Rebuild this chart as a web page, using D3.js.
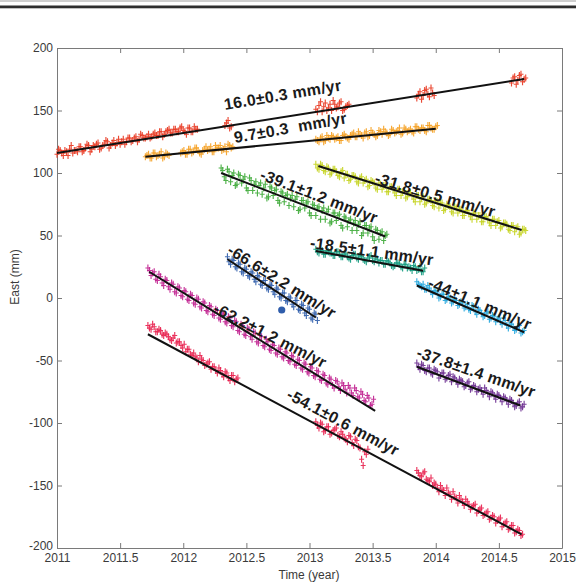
<!DOCTYPE html>
<html>
<head>
<meta charset="utf-8">
<script src="https://cdn.jsdelivr.net/npm/d3@7"></script>
<style>
  html, body { margin: 0; padding: 0; background: #ffffff; }
  svg { display: block; }
  .axis text { font-family: "Liberation Sans", Arial, sans-serif; font-size: 12px; fill: #3a3a3a; }
  .axis path, .axis line { stroke: #7a7a7a; stroke-width: 1; }
  .rate { font-family: "Liberation Sans", Arial, sans-serif; font-weight: bold; font-size: 16px; fill: #1a1a1a; letter-spacing: 0.3px; }
</style>
</head>
<body>
<script>
// ---- Axis ticks ----
const xTicks = [2011, 2011.5, 2012, 2012.5, 2013, 2013.5, 2014, 2014.5, 2015];
const xTickLabels = ["2011", "2011.5", "2012", "2012.5", "2013", "2013.5", "2014", "2014.5", "2015"];
const yTicks = [-200, -150, -100, -50, 0, 50, 100, 150, 200];
const yTickLabels = ["-200", "-150", "-100", "-50", "0", "50", "100", "150", "200"];

// ---- Solutions (East, mm). Each segment starts at the given epoch with one value per sampleStep;
// the *Mid arrays hold the solutions half a step later. ----
const sampleStep = 0.025;

const redStarts = [2011.00, 2012.33, 2013.05, 2013.85, 2014.60];
const redEast = [
  [115,118,114,117,119,116,118,121,117,120,122,119,121,124,120,123,125,122,126,124,
   123,127,125,128,126,129,127,130,128,131,129,132,130,133,131,134,132,135,133,136,
   134,131,136,133,135],
  [138,142,137],
  [151,154,149,156,152,150,155,153,157,151,154],
  [160,165,162,167,161,164],
  [172,177,174,179,175]
];
const redEastMid = [
  [119,116,118,114,122,118,117,121,118,123,117,122,123,119,122,126,120,124,122,127,
   125,123,128,125,128,125,131,128,129,128,131,130,133,129,133,135,132,135,133,137,
   133,136,133,137,135],
  [140,136],
  [149,157,153,150,155,158,152,156,150,153,155],
  [163,159,166,163,168,162],
  [176,171,178,173,176]
];

const orangeStarts = [2011.70, 2011.98, 2013.05];
const orangeEast = [
  [113,115,112,116,114,117,113,115],
  [116,118,115,119,117,120,116,118,121,119,117,122,120,118,121,123,120],
  [127,125,129,126,128,130,127,129,126,131,128,130,132,129,131,128,133,130,132,129,
   134,131,133,130,135,132,134,131,136,133,135,132,137,134,136,133,138,135,137]
];
const orangeEastMid = [
  [114,112,116,113,115,112,116,114],
  [117,115,119,116,120,118,115,119,118,121,117,120,122,119,117,122,121],
  [126,128,125,130,127,129,128,126,130,129,127,131,129,133,130,132,129,134,131,130,
   133,135,132,131,134,133,136,132,135,134,133,137,135,136,134,138,136,135,138]
];

const greenStarts = [2012.30];
const greenEast = [
  [104,97,103,93,100,91,98,95,88,96,86,93,90,83,91,81,88,86,78,85,
   77,83,80,73,81,71,78,76,68,75,66,73,70,63,71,61,68,66,58,65,
   57,63,60,54,61,52,58,56,49,55,47,53,50]
];
const greenEastMid = [
  [102,94,101,98,90,99,92,97,86,94,91,84,92,88,80,89,82,87,76,84,
   82,74,82,79,70,78,72,77,66,74,72,63,72,69,60,68,62,67,56,64,
   62,54,62,59,50,58,52,57,46,54,52,46,51]
];

const yellowStarts = [2013.05];
const yellowEast = [
  [107,103,106,101,104,100,103,98,101,96,99,95,98,93,96,92,95,90,93,88,
   92,87,90,85,89,84,87,82,86,81,84,79,82,77,81,76,79,74,78,72,
   76,71,74,69,73,68,71,66,70,65,68,63,66,61,65,60,63,58,62,57,
   60,55,58,53,57,52,55]
];
const yellowEastMid = [
  [104,107,102,105,99,103,101,97,102,99,94,98,97,92,97,94,89,94,92,87,
   91,90,85,89,87,82,87,85,80,84,82,77,82,80,75,79,78,73,77,76,
   70,75,73,68,72,71,66,70,68,63,68,66,61,65,63,58,63,61,56,60,
   59,54,58,56,51,55,54]
];

const tealStarts = [2013.05];
const tealEast = [
  [39,36,38,35,37,36,34,37,33,35,33,31,35,32,34,31,29,33,30,32,
   28,30,27,29,26,26,28,25,27,24,24,26,22,25,21]
];
const tealEastMid = [
  [37,39,35,38,36,34,37,35,33,36,32,34,35,31,33,30,32,34,29,31,
   30,27,30,28,25,28,27,24,27,25,22,25,23,21,24]
];

const blueStarts = [2012.35];
const blueEast = [
  [33,27,30,24,27,20,23,17,20,13,17,10,14,7,10,3,7,0,4,-3,
   0,-7,-2,-10,-6,-14,-9,-17,-13]
];
const blueEastMid = [
  [29,31,25,28,21,24,18,21,15,18,11,14,8,11,5,8,1,4,-2,1,
   -5,-2,-9,-5,-12,-8,-16,-12,-18]
];
// isolated outlier solution
const blueOutlier = [2012.78, -9.6];

const magentaStarts = [2011.72];
const magentaEast = [
  [24,18,21,14,17,10,14,7,11,4,8,1,5,-2,2,-5,-1,-8,-4,-11,
   -7,-14,-10,-17,-13,-20,-16,-23,-19,-27,-22,-30,-25,-33,-28,-36,-31,-39,-35,-42,
   -38,-45,-41,-48,-44,-51,-47,-54,-50,-57,-53,-60,-56,-63,-59,-66,-62,-69,-65,-72,
   -67,-74,-70,-76,-72,-78,-74,-80,-77,-83,-80,-85]
];
const magentaEastMid = [
  [22,20,15,19,12,15,9,12,5,9,2,6,-1,3,-4,0,-7,-3,-10,-6,
   -13,-9,-16,-12,-19,-15,-22,-18,-26,-21,-29,-24,-31,-27,-35,-30,-38,-33,-41,-37,
   -44,-40,-47,-43,-50,-46,-53,-49,-56,-52,-59,-55,-62,-58,-65,-61,-68,-64,-70,-66,
   -71,-68,-73,-70,-76,-72,-79,-75,-82,-78,-86,-81]
];

const crimsonStarts = [2011.72, 2013.05, 2013.85];
const crimsonEast = [
  [-22,-25,-23,-27,-26,-30,-29,-33,-32,-36,-35,-40,-43,-41,-46,-47,-51,-49,-54,-52,
   -57,-55,-60,-58,-63,-60,-66,-62,-65],
  [-99,-104,-101,-106,-103,-108,-105,-110,-107,-112,-115,-111,-118,-114,-120,-134,-125],
  [-138,-142,-140,-145,-147,-150,-149,-155,-153,-158,-156,-161,-159,-164,-161,-166,-163,-169,-166,-172,
   -169,-174,-172,-177,-174,-180,-177,-183,-180,-185,-182,-188,-185,-190]
];
const crimsonEastMid = [
  [-24,-21,-27,-25,-29,-28,-31,-34,-30,-35,-38,-37,-41,-45,-44,-48,-46,-50,-53,-51,
   -55,-58,-56,-61,-59,-64,-62,-67,-64],
  [-102,-100,-107,-103,-109,-106,-104,-111,-109,-113,-110,-116,-113,-119,-129,-123,-121],
  [-140,-143,-139,-146,-144,-148,-152,-150,-154,-152,-157,-155,-160,-158,-163,-161,-165,-167,-165,-170,
   -168,-173,-171,-176,-175,-178,-176,-181,-179,-184,-182,-187,-186,-189]
];

const cyanStarts = [2013.85];
const cyanEast = [
  [13,10,11,7,8,3,5,0,3,-2,1,-4,-1,-6,-3,-8,-5,-10,-7,-13,
   -10,-15,-12,-17,-14,-19,-16,-21,-18,-24,-21,-26,-23,-28,-26]
];
const cyanEastMid = [
  [11,9,7,10,5,6,4,1,3,-1,0,-3,-2,-5,-4,-7,-9,-6,-11,-9,
   -12,-14,-11,-16,-15,-17,-19,-16,-22,-20,-23,-25,-22,-27]
];

const purpleStarts = [2013.85];
const purpleEast = [
  [-52,-57,-54,-59,-56,-61,-58,-64,-60,-65,-62,-67,-64,-69,-66,-71,-68,-73,-70,-75,
   -72,-77,-74,-79,-76,-81,-78,-83,-80,-85,-82,-87,-84,-88,-85]
];
const purpleEastMid = [
  [-55,-53,-58,-56,-60,-57,-59,-62,-60,-64,-61,-63,-66,-65,-67,-70,-67,-72,-71,-73,
   -74,-72,-76,-75,-78,-77,-80,-79,-82,-81,-84,-86,-83,-87]
];

// ---- Linear fits: [start epoch, end epoch, East at start (mm), rate (mm/yr)] ----
const redFit     = [2011.00, 2014.70, 116, 16.0];
const orangeFit  = [2011.70, 2014.00, 113, 9.7];
const greenFit   = [2012.30, 2013.60, 100, -39.1];
const yellowFit  = [2013.07, 2014.68, 105.6, -31.8];
const tealFit    = [2013.05, 2013.90, 37.6, -18.5];
const blueFit    = [2012.35, 2013.05, 31, -66.6];
const magentaFit = [2011.73, 2013.52, 21, -62.2];
const crimsonFit = [2011.72, 2014.68, -29, -54.1];
const cyanFit    = [2013.85, 2014.70, 10, -44];
const purpleFit  = [2013.85, 2014.67, -55, -37.8];

// ---- Rate annotations ----
const rateLabels = [
  "16.0±0.3 mm/yr", "9.7±0.3  mm/yr", "-39.1±1.2 mm/yr", "-31.8±0.5 mm/yr",
  "-18.5±1.1 mm/yr", "-66.6±2.2 mm/yr", "-62.2±1.2 mm/yr", "-54.1±0.6 mm/yr",
  "-44±1.1 mm/yr", "-37.8±1.4 mm/yr"
];

// ---- Series ----
const series = [
  { starts: redStarts,     east: redEast,     mid: redEastMid,     fit: redFit,     color: "#e8361f" },
  { starts: orangeStarts,  east: orangeEast,  mid: orangeEastMid,  fit: orangeFit,  color: "#f5a021" },
  { starts: greenStarts,   east: greenEast,   mid: greenEastMid,   fit: greenFit,   color: "#3daa37" },
  { starts: yellowStarts,  east: yellowEast,  mid: yellowEastMid,  fit: yellowFit,  color: "#c4d31e" },
  { starts: tealStarts,    east: tealEast,    mid: tealEastMid,    fit: tealFit,    color: "#0f9a7d" },
  { starts: blueStarts,    east: blueEast,    mid: blueEastMid,    fit: blueFit,    color: "#2f5dab" },
  { starts: magentaStarts, east: magentaEast, mid: magentaEastMid, fit: magentaFit, color: "#c01f8e" },
  { starts: crimsonStarts, east: crimsonEast, mid: crimsonEastMid, fit: crimsonFit, color: "#e8204e" },
  { starts: cyanStarts,    east: cyanEast,    mid: cyanEastMid,    fit: cyanFit,    color: "#20a5dd" },
  { starts: purpleStarts,  east: purpleEast,  mid: purpleEastMid,  fit: purpleFit,  color: "#6a2b8f" }
];

// Label anchors (epoch, mm) and rotation (deg) for each rate annotation
const labelPlacement = [
  [2012.33, 150.4, -9.5],
  [2012.41, 124.0, -10],
  [2012.60, 95.2, 21],
  [2013.51, 92.0, 16],
  [2013.00, 40.0, 8],
  [2012.34, 36.0, 32],
  [2012.23, -11.2, 27],
  [2012.81, -80.0, 28],
  [2013.93, 8.8, 23],
  [2013.84, -47.2, 19]
];

const W = 576, H = 585;
const svg = d3.select("body").append("svg").attr("width", W).attr("height", H);

// header rule
svg.append("rect").attr("x", 0).attr("y", 0).attr("width", W).attr("height", 2).attr("fill", "#cfcfcf");
svg.append("rect").attr("x", 0).attr("y", 5.5).attr("width", W).attr("height", 2.8).attr("fill", "#2e2e2e");

const x = d3.scaleLinear().domain([2011, 2015]).range([57, 562]);
const y = d3.scaleLinear().domain([-200, 200]).range([548, 48]);

// axes with inward ticks on all four sides
svg.append("g").attr("class", "axis").attr("transform", "translate(0,548)")
  .call(d3.axisBottom(x).tickValues(xTicks).tickSize(-5).tickSizeOuter(0).tickPadding(5)
    .tickFormat((d, i) => xTickLabels[i]));
svg.append("g").attr("class", "axis").attr("transform", "translate(0,48)")
  .call(d3.axisTop(x).tickValues(xTicks).tickSize(-5).tickSizeOuter(0).tickFormat(""));
const yAxisG = svg.append("g").attr("class", "axis").attr("transform", "translate(57,0)")
  .call(d3.axisLeft(y).tickValues(yTicks).tickSize(-5).tickSizeOuter(0).tickPadding(4)
    .tickFormat((d, i) => yTickLabels[i]));
// lift the bottom y label slightly so it clears the first year label
yAxisG.selectAll(".tick").filter(d => d === -200).select("text").attr("y", -2);
svg.append("g").attr("class", "axis").attr("transform", "translate(562,0)")
  .call(d3.axisRight(y).tickValues(yTicks).tickSize(-5).tickSizeOuter(0).tickFormat(""));

svg.append("text").attr("x", 309).attr("y", 579).attr("text-anchor", "middle")
  .style("font-family", '"Liberation Sans", Arial, sans-serif').style("font-size", "12px").style("fill", "#3a3a3a")
  .text("Time (year)");
svg.append("text").attr("transform", "translate(19,277) rotate(-90)").attr("text-anchor", "middle")
  .style("font-family", '"Liberation Sans", Arial, sans-serif').style("font-size", "12px").style("fill", "#3a3a3a")
  .text("East (mm)");

// observations as small "+" markers with short error bars
const plus = d => {
  const px = x(d.t), py = y(d.v);
  return `M${px - 2.5},${py}H${px + 2.5}M${px},${py - 3.5}V${py + 3.5}`;
};
series.forEach(s => {
  const pts = [];
  s.starts.forEach((t0, k) => {
    s.east[k].forEach((v, i) => pts.push({ t: t0 + i * sampleStep, v }));
    s.mid[k].forEach((v, i) => pts.push({ t: t0 + (i + 0.5) * sampleStep, v }));
  });
  svg.append("g").selectAll("path").data(pts).join("path")
    .attr("d", plus).attr("stroke", s.color).attr("stroke-width", 1.15).attr("fill", "none").attr("opacity", 0.9);
});

svg.append("circle").attr("cx", x(blueOutlier[0])).attr("cy", y(blueOutlier[1])).attr("r", 3.6).attr("fill", "#2f5dab");

// fitted trends
const line = d3.line().x(d => x(d[0])).y(d => y(d[1]));
series.forEach(s => {
  const [t0, t1, e0, rate] = s.fit;
  svg.append("path").attr("d", line([[t0, e0], [t1, e0 + rate * (t1 - t0)]]))
    .attr("stroke", "#111").attr("stroke-width", 2).attr("fill", "none");
});

// rate annotations
rateLabels.forEach((txt, i) => {
  const [t, v, a] = labelPlacement[i];
  svg.append("text").attr("class", "rate")
    .attr("transform", `translate(${x(t)},${y(v)}) rotate(${a})`)
    .attr("xml:space", "preserve").style("white-space", "pre")
    .text(txt);
});
</script>
</body>
</html>
